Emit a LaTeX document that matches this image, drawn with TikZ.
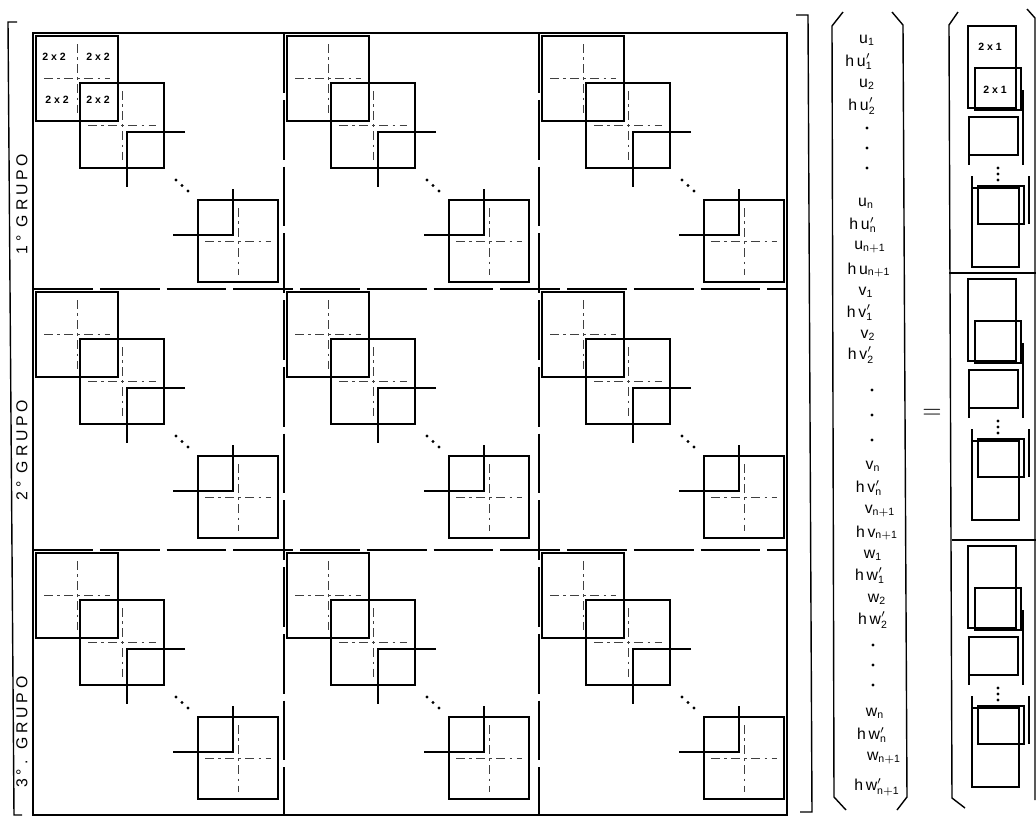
\documentclass[tikz,border=0pt]{standalone}
\usepackage{fontspec}
\setsansfont{Liberation Sans}
\newfontfamily\grupofont[LetterSpace=24]{Liberation Sans}
\newcommand{\ent}[1]{$\mathsf{#1}$}

\begin{document}
\begin{tikzpicture}[
    x=0.02cm, y=-0.02cm,
    font=\sffamily,
    blk/.style={draw=black, line width=0.8pt},
    cross/.style={draw=black!75, line width=0.45pt, dash pattern=on 5pt off 2.5pt on 1.5pt off 2.5pt},
    grid/.style={draw=black, line width=0.7pt, dash pattern=on 34pt off 4pt},
    frame/.style={draw=black, line width=0.8pt},
    ent/.style={font=\sffamily\small, inner sep=0pt},
    tag/.style={font=\sffamily\fontsize{6}{7}\selectfont\bfseries, inner sep=0pt},
    grp/.style={font=\grupofont\small, rotate=90, inner sep=0pt},
    vdot/.style={circle, fill=black, inner sep=0pt, minimum size=1.8pt},
]
\useasboundingbox (0,0) rectangle (1036,819);

% ---- big matrix ----
\draw[frame] (33,33) rectangle (787,815);
\draw[grid] (284,33) -- (284,815);
\draw[grid] (539,33) -- (539,815);
\draw[grid] (33,289) -- (787,289);
\draw[grid] (33,550) -- (787,550);
\draw[frame] (17,22) -- (8,22) -- (14,815) -- (22,815);
\draw[frame] (796,15) -- (808,15) -- (812,812) -- (800,812);

% ---- diagonal blocks in each cell ----
\foreach \cx in {33,284,539} {
  \foreach \cy in {33,289,550} {
    \begin{scope}[shift={(\cx,\cy)}]
      \draw[blk] (3,3) rectangle (85,88);
      \draw[cross] (11,45.5) -- (77,45.5);
      \draw[cross] (44,11) -- (44,80);
      \draw[blk] (47,50) rectangle (131,135);
      \draw[cross] (55,92.5) -- (123,92.5);
      \draw[cross] (89,58) -- (89,127);
      \draw[blk] (152,99) -- (94,99) -- (94,154);
      \node[vdot] at (143,147) {};
      \node[vdot] at (149,152.5) {};
      \node[vdot] at (155,158) {};
      \draw[blk] (165,167) rectangle (245,249);
      \draw[cross] (172,208) -- (238,208);
      \draw[cross] (205,175) -- (205,242);
      \draw[blk] (200,156) -- (200,202) -- (140,202);
    \end{scope}
  }
}
\node[tag] (a11) at (54,57) {2 x 2};
\node[tag] (a12) at (98,57) {2 x 2};
\node[tag] (a21) at (57,100) {2 x 2};
\node[tag] (a22) at (98,100) {2 x 2};

% ---- group labels ----
\node[grp] (g1) at (22,204) {1° GRUPO};
\node[grp] (g2) at (22,450) {2° GRUPO};
\node[grp] (g3) at (22,732) {3°. GRUPO};

% ---- unknowns vector ----
\draw[frame] (843,12) -- (832,26) -- (834,797) -- (846,810);
\draw[frame] (892,12) -- (903,25) -- (907,797) -- (897,810);
\foreach \px/\py/\txt [count=\i] in {
    867/40/{u_1}, 859/62/{h\,u'_1}, 867/84/{u_2}, 862/106/{h\,u'_2},
    866/203/{u_n}, 863/225/{h\,u'_n}, 870/247/{u_{n+1}}, 869/270/{h\,u_{n+1}},
    866/292/{v_1}, 860/313/{h\,v'_1}, 868/335/{v_2}, 861/355/{h\,v'_2},
    873/466/{v_n}, 869/488/{h\,v'_n}, 880/511/{v_{n+1}}, 877/533/{h\,v_{n+1}},
    873/555/{w_1}, 870/576/{h\,w'_1}, 877/599/{w_2}, 873/620/{h\,w'_2},
    875/713/{w_n}, 872/735/{h\,w'_n}, 884/758/{w_{n+1}}, 877/787/{h\,w'_{n+1}}}
  \node[ent] (e\i) at (\px,\py) {\ent{\txt}};
\foreach \px/\py [count=\i] in {867/128, 867/148, 867/168, 872/390, 872/415, 872/440,
    873/645, 873/665, 873/685}
  \node[vdot] (d\i) at (\px,\py) {};

\node (eq) at (932,414) {\Large $=$};

% ---- right-hand vector ----
\draw[frame] (958,12) -- (949,25) -- (952,798) -- (965,808);
\draw[frame] (1027,9) -- (1035,18) -- (1035,800);
\draw[frame] (949,273) -- (1036,273);
\draw[frame] (952,540) -- (1036,540);
\foreach \T in {20,273,540} {
  \draw[blk] (968,\T+6) rectangle (1016,\T+88);
  \draw[blk] (975,\T+48) rectangle (1021,\T+90);
  \draw[blk] (969,\T+97) rectangle (1018,\T+135);
  \draw[blk] (969,\T+135) -- (969,\T+145);
  \draw[blk] (1023,\T+70) -- (1023,\T+145);
  \node[vdot] at (998,\T+148) {};
  \node[vdot] at (998,\T+154) {};
  \node[vdot] at (998,\T+160) {};
  \draw[blk] (978,\T+166) rectangle (1024,\T+204);
  \draw[blk] (972,\T+156) -- (972,\T+204);
  \draw[blk] (1029,\T+156) -- (1029,\T+204);
  \draw[blk] (972,\T+168) rectangle (1019,\T+247);
}
\node[tag] (b1) at (990,47) {2 x 1};
\node[tag] (b2) at (995,90) {2 x 1};
\end{tikzpicture}
\end{document}
